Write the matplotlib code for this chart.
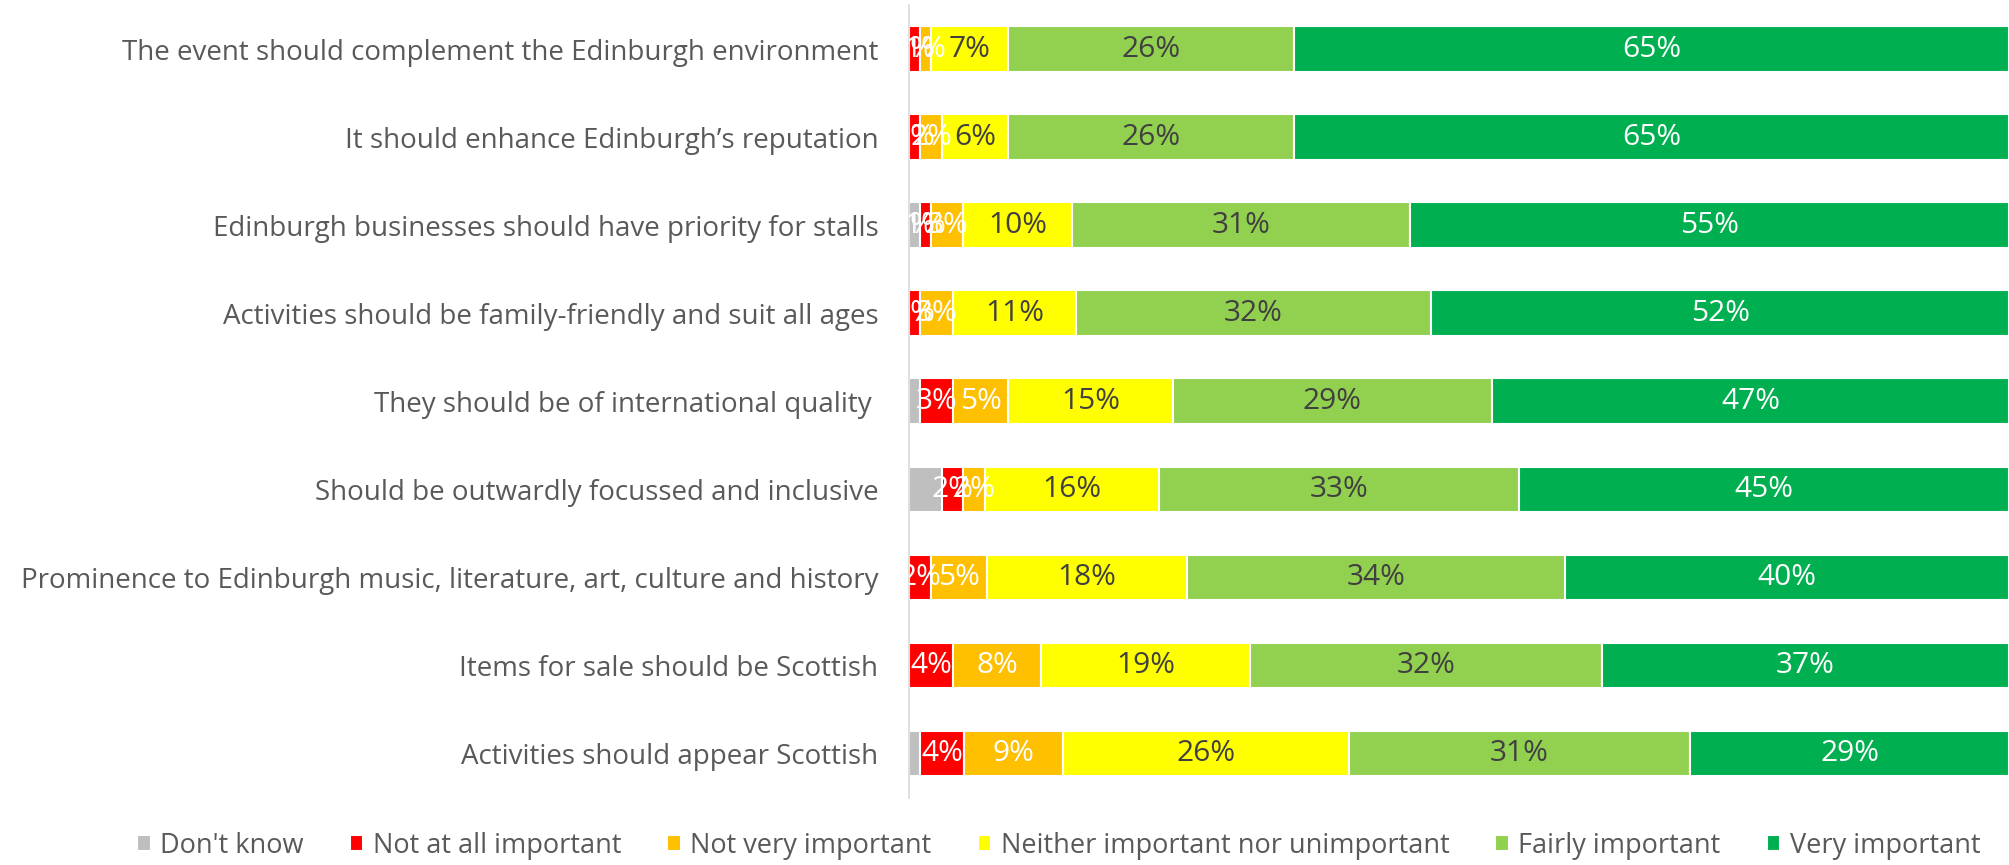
import numpy as np
import matplotlib.pyplot as plt

# === Data ===
statements = [
    "The event should complement the Edinburgh environment",
    "It should enhance Edinburgh\u2019s reputation",
    "Edinburgh businesses should have priority for stalls",
    "Activities should be family-friendly and suit all ages",
    "They should be of international quality ",
    "Should be outwardly focussed and inclusive",
    "Prominence to Edinburgh music, literature, art, culture and history",
    "Items for sale should be Scottish",
    "Activities should appear Scottish",
]
responses = ["Don't know", "Not at all important", "Not very important",
             "Neither important nor unimportant", "Fairly important", "Very important"]

dont_know = [0, 0, 1, 0, 1, 3, 0, 0, 1]
not_at_all = [1, 1, 1, 1, 3, 2, 2, 4, 4]
not_very = [1, 2, 3, 3, 5, 2, 5, 8, 9]
neither = [7, 6, 10, 11, 15, 16, 18, 19, 26]
fairly = [26, 26, 31, 32, 29, 33, 34, 32, 31]
very = [65, 65, 55, 52, 47, 45, 40, 37, 29]

# the chart only shows a "Don't know" data label on one row
dont_know_shown = [False, False, True, False, False, False, False, False, False]

colors = ["#BFBFBF", "#FF0000", "#FFC000", "#FFFF00", "#92D050", "#00B050"]
text_colors = ["white", "white", "white", "#404040", "#404040", "white"]

plt.rcParams["font.family"] = ["Open Sans", "DejaVu Sans"]

fig = plt.figure(figsize=(20.09, 8.65), dpi=100)
ax = fig.add_axes([909 / 2009, 0.078, 1 - 909 / 2009, 0.916])

series = [np.array(s, dtype=float) for s in [dont_know, not_at_all, not_very, neither, fairly, very]]
totals = np.sum(series, axis=0)  # 100% stacked: each row scaled to its total
y = np.arange(len(statements))
left = np.zeros(len(statements))
for k, (vals, name, col, tcol) in enumerate(zip(series, responses, colors, text_colors)):
    widths = vals / totals * 100
    bars = ax.barh(y, widths, left=left, height=0.52, color=col,
                   edgecolor="white", linewidth=1.5, label=name)
    for i, (b, v) in enumerate(zip(bars, vals)):
        if v <= 0 or (k == 0 and not dont_know_shown[i]):
            continue
        ax.text(b.get_x() + b.get_width() / 2, b.get_y() + b.get_height() / 2,
                f"{int(v)}%", ha="center", va="center", fontsize=21.5,
                color=tcol, clip_on=True)
    left += widths

ax.set_xlim(0, 100)
ax.set_ylim(len(statements) - 0.5, -0.5)
ax.set_yticks(y)
ax.set_yticklabels(statements, fontsize=20, color="#595959")
ax.tick_params(axis="y", length=0, pad=22)
ax.set_xticks([])
for s in ["top", "right", "bottom"]:
    ax.spines[s].set_visible(False)
ax.spines["left"].set_color("#D9D9D9")
ax.spines["left"].set_linewidth(1.2)

fig.legend(loc="lower center", bbox_to_anchor=(0.527, -0.022), ncol=6,
           frameon=False, fontsize=19.5, handlelength=0.5, handleheight=0.5,
           handletextpad=0.35, columnspacing=1.7, labelcolor="#595959")

fig.savefig("out.png", dpi=100)
